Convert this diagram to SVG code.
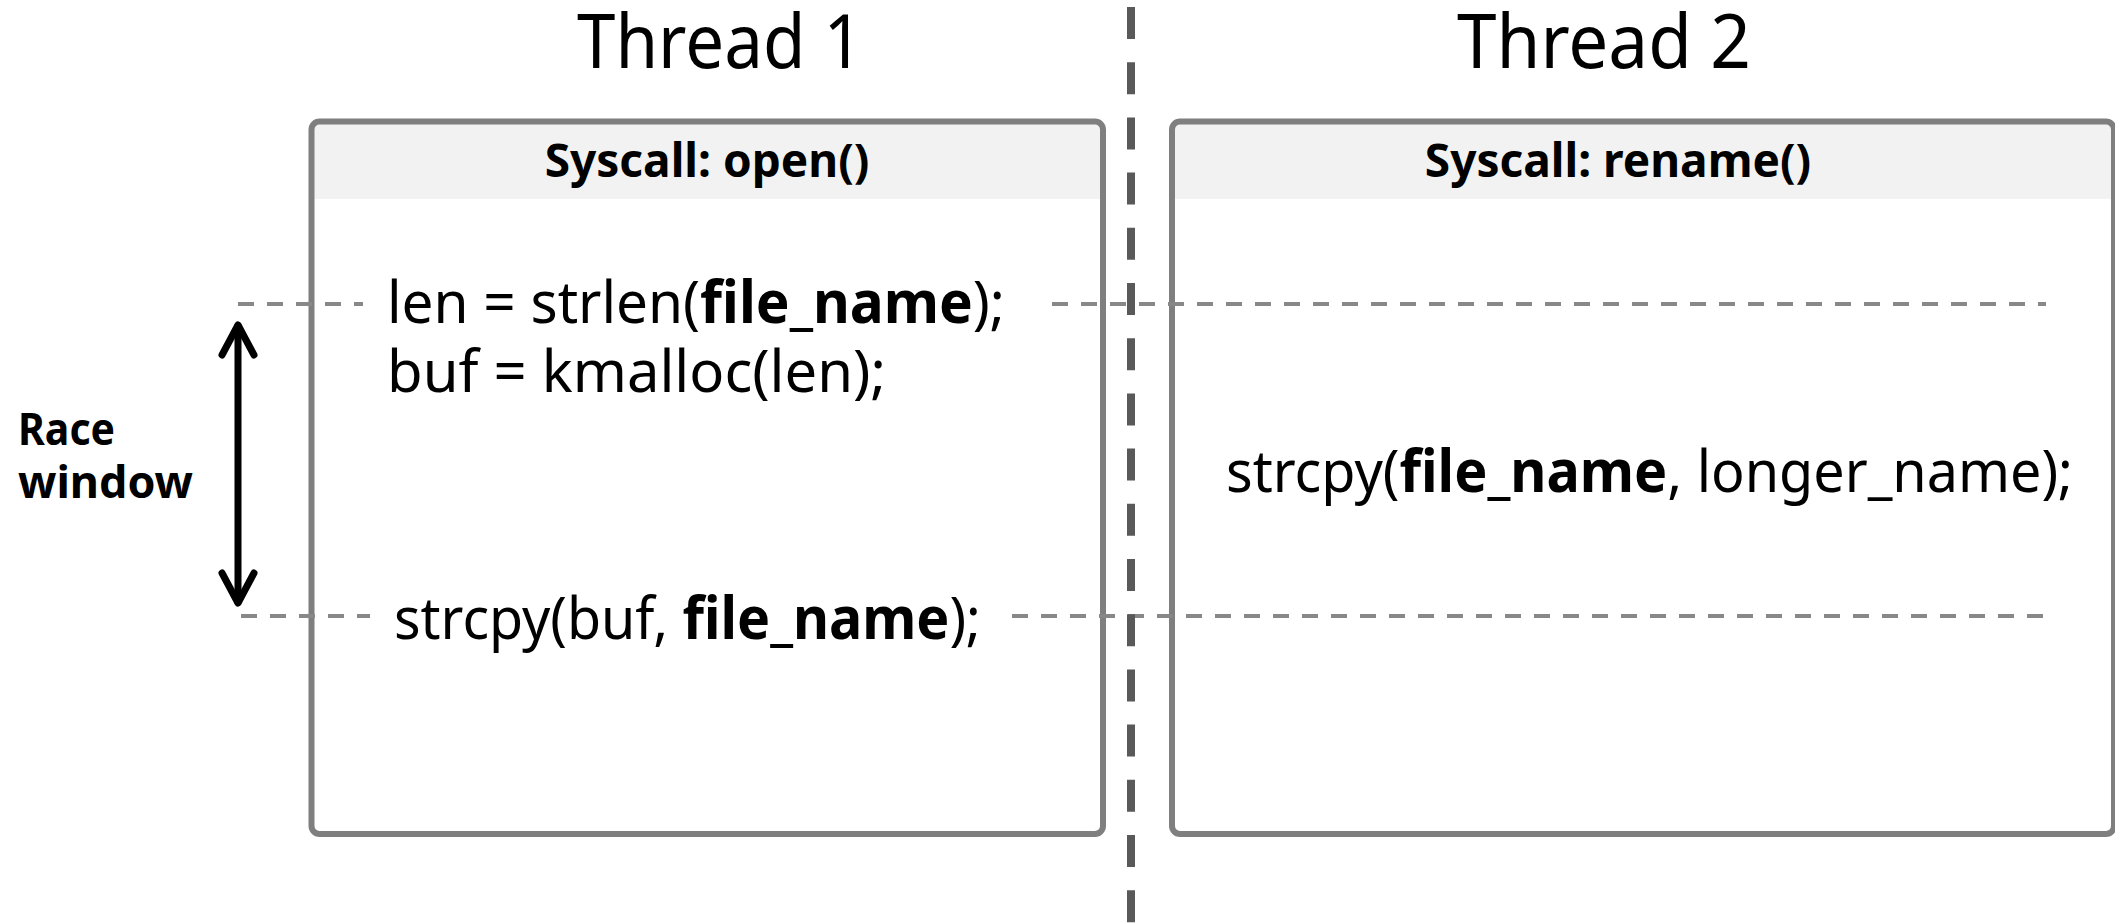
<svg xmlns="http://www.w3.org/2000/svg" width="2115" height="924" viewBox="0 0 2115 924">
<style>
text{font-family:"Noto Sans","Open Sans","Liberation Sans",sans-serif;fill:#000}
.title{font-size:75px}
.hdr{font-size:46px;font-weight:bold;text-anchor:middle}
.code{font-size:59px}
.b{font-weight:bold}
.lbl{font-size:44px;font-weight:bold}
.box{fill:none;stroke:#7f7f7f;stroke-width:6}
.hfill{fill:#f2f2f2}
.hdash{stroke:#888;stroke-width:4;stroke-dasharray:16 13;fill:none}
.vdash{stroke:#595959;stroke-width:8;stroke-dasharray:32 23.2;fill:none}
.arr{stroke:#000;stroke-width:7;fill:none;stroke-linecap:round;stroke-linejoin:round}
</style>
<rect width="2115" height="924" fill="#fff"/>
<g id="title1"><text class="title" x="577" y="68" textLength="286" lengthAdjust="spacingAndGlyphs">Thread 1</text></g>
<g id="title2"><text class="title" x="1457" y="68" textLength="294" lengthAdjust="spacingAndGlyphs">Thread 2</text></g>
<g id="thread1">
<rect x="311.5" y="121.5" width="791.5" height="712.5" rx="8" fill="#fff"/>
<path class="hfill" d="M311.5,199 V129.5 Q311.5,121.5 319.5,121.5 H1095 Q1103,121.5 1103,129.5 V199 Z"/>
<rect class="box" x="311.5" y="121.5" width="791.5" height="712.5" rx="8"/>
<text class="hdr" x="707" y="177">Syscall: open()</text>
<text class="code" x="387" y="323" textLength="618" lengthAdjust="spacingAndGlyphs">len = strlen(<tspan class="b">file_name</tspan>);</text>
<text class="code" x="387" y="392" textLength="499" lengthAdjust="spacingAndGlyphs">buf = kmalloc(len);</text>
<text class="code" x="394" y="639" textLength="587" lengthAdjust="spacingAndGlyphs">strcpy(buf, <tspan class="b">file_name</tspan>);</text>
</g>
<g id="thread2">
<rect x="1172" y="121.5" width="942" height="712.5" rx="8" fill="#fff"/>
<path class="hfill" d="M1172,199 V129.5 Q1172,121.5 1180,121.5 H2106 Q2114,121.5 2114,129.5 V199 Z"/>
<rect class="box" x="1172" y="121.5" width="942" height="712.5" rx="8"/>
<text class="hdr" x="1618" y="177">Syscall: rename()</text>
<text class="code" x="1226" y="492" textLength="847" lengthAdjust="spacingAndGlyphs">strcpy(<tspan class="b">file_name</tspan>, longer_name);</text>
</g>
<g id="race-window">
<text class="lbl" x="18" y="445" textLength="97" lengthAdjust="spacingAndGlyphs">Race</text>
<text class="lbl" x="18" y="498" textLength="175" lengthAdjust="spacingAndGlyphs">window</text>
</g>
<g id="connectors">
<line class="hdash" x1="238" y1="304" x2="363" y2="304"/>
<line class="hdash" x1="1052" y1="304" x2="2046" y2="304"/>
<line class="hdash" x1="241" y1="616" x2="370" y2="616"/>
<line class="hdash" x1="1012" y1="616" x2="2046" y2="616"/>
<line class="arr" x1="238" y1="326" x2="238" y2="602"/>
<polyline class="arr" points="222,355 238,325 254,355"/>
<polyline class="arr" points="222,573 238,603 254,573"/>
<line class="vdash" x1="1131" y1="7" x2="1131" y2="924"/>
</g>
</svg>
